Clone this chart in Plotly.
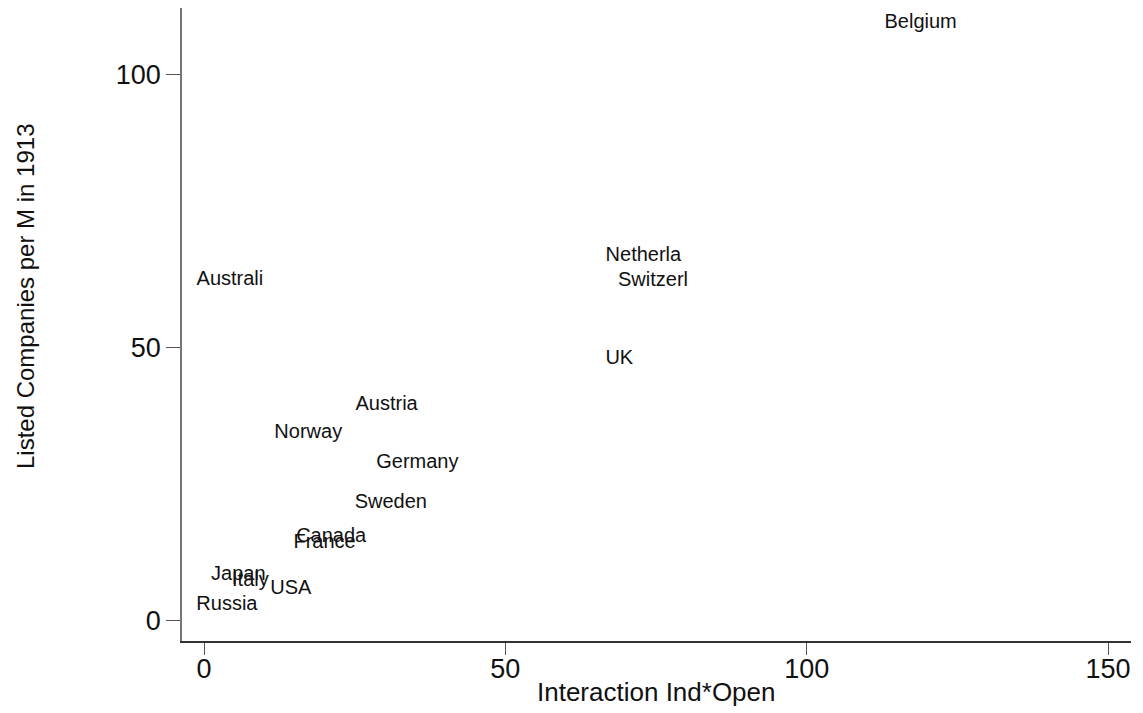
import plotly.graph_objects as go

countries = ["Belgium", "Netherla", "Switzerl", "UK", "Australi", "Austria", "Norway",
             "Germany", "Sweden", "Canada", "France", "Japan", "Italy", "USA", "Russia"]
interaction = [118.9, 72.9, 74.5, 68.9, 4.3, 30.3, 17.3, 35.4, 31.0, 21.1, 20.0, 5.7, 7.7, 14.4, 3.8]
listed = [109.5, 66.7, 62.1, 47.9, 62.3, 39.5, 34.2, 28.7, 21.4, 15.3, 14.1, 8.2, 7.1, 5.7, 2.7]

x_ticks = [0, 50, 100, 150]
y_ticks = [0, 50, 100]

FONT = "Liberation Sans, Arial, Helvetica, sans-serif"

fig = go.Figure()
fig.add_trace(go.Scatter(
    x=interaction, y=listed, text=countries, mode="text",
    textposition="middle center",
    textfont=dict(family=FONT, size=20, color="#111111"),
    hoverinfo="skip", showlegend=False,
))

fig.update_layout(
    width=1143, height=713,
    margin=dict(l=182, r=12, t=8, b=72),
    paper_bgcolor="white", plot_bgcolor="white",
    font=dict(family=FONT, color="#111111"),
    xaxis=dict(
        range=[-3.65, 153.8], tickvals=x_ticks, ticktext=[str(v) for v in x_ticks],
        showgrid=False, zeroline=False, showline=True, linecolor="#333333", linewidth=1.5,
        ticks="outside", ticklen=12, tickcolor="#555555", tickwidth=1,
        ticklabelstandoff=-9,
        tickfont=dict(family=FONT, size=27, color="#111111"),
    ),
    yaxis=dict(
        range=[-3.84, 112.2], tickvals=y_ticks, ticktext=[str(v) for v in y_ticks],
        showgrid=False, zeroline=False, showline=True, linecolor="#777777", linewidth=1.5,
        ticks="outside", ticklen=14, tickcolor="#555555", tickwidth=1,
        tickfont=dict(family=FONT, size=27, color="#111111"),
    ),
    annotations=[
        dict(text="Interaction Ind*Open", xref="paper", yref="paper",
             x=0.5005, y=-0.0806, xanchor="center", yanchor="middle", showarrow=False,
             font=dict(family=FONT, size=26, color="#111111")),
        dict(text="Listed Companies per M in 1913", xref="paper", yref="paper",
             x=-0.1654, y=0.545, xanchor="center", yanchor="middle", showarrow=False,
             textangle=-90, font=dict(family=FONT, size=24, color="#111111")),
    ],
)

fig.write_html("out.html")
